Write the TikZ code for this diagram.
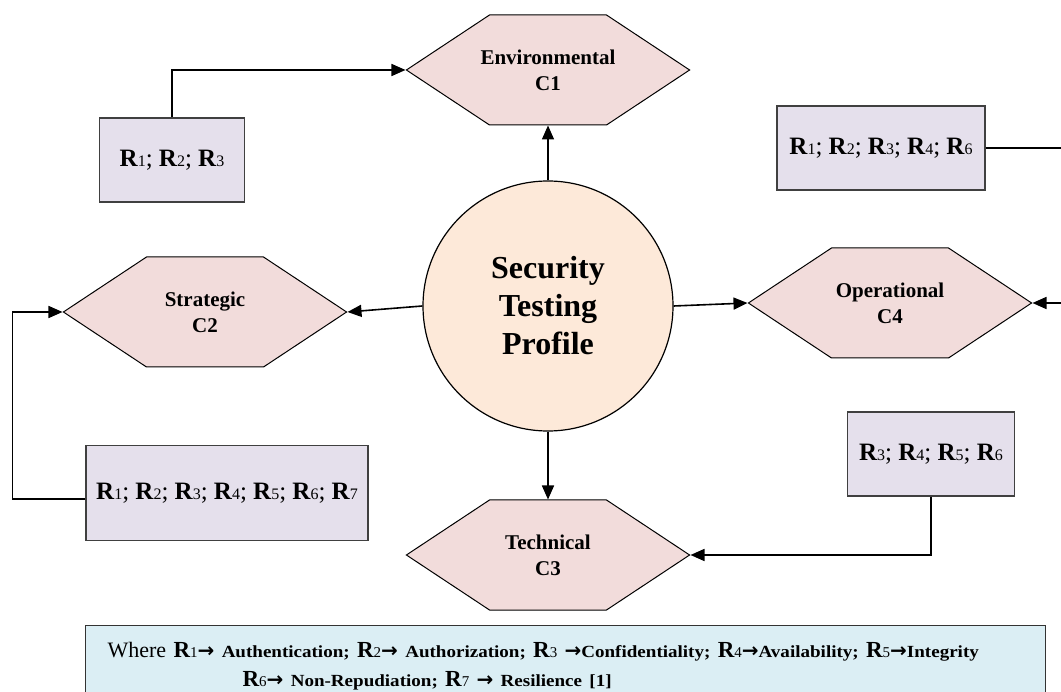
\documentclass[tikz,border=0pt]{standalone}
\usepackage{fontspec}
\setmainfont{Liberation Serif}
\newfontfamily\legendfont[FakeStretch=1.12]{Liberation Serif}
\newfontfamily\arrowfont{DejaVu Sans}
\usetikzlibrary{arrows.meta,shapes.symbols}
\definecolor{hexpink}{HTML}{F2DCDB}
\definecolor{boxlav}{HTML}{E5E0EC}
\definecolor{circpeach}{HTML}{FDE9D9}
\definecolor{legblue}{HTML}{DBEEF4}

% requirement label, e.g. \req{3} -> bold R with small digit
\newcommand{\req}[1]{{\bfseries R}{\fontsize{16}{16}\selectfont #1}}
% one line of a category label, kept to the flat part of the hexagon
\newcommand{\catline}[1]{\makebox[117pt]{#1}}
% legend pieces
\newcommand{\lreq}[1]{{\fontsize{23}{23}\selectfont\bfseries R}{\fontsize{15}{15}\selectfont #1}}
\newcommand{\lto}{{\arrowfont\bfseries\fontsize{20}{20}\selectfont →}}
\newcommand{\ldesc}[1]{{\legendfont\fontsize{17}{17}\selectfont\bfseries #1}}

\begin{document}
\begin{tikzpicture}[x=1pt,y=-1pt,
    category/.style={shape=signal,signal to=east and west,signal pointer angle=67,
      draw=black,line width=1pt,fill=hexpink,minimum height=110pt,
      inner sep=0pt,align=center,font=\fontsize{21}{26}\selectfont\bfseries},
    reqbox/.style={draw=black!75,line width=1.2pt,fill=boxlav,
      minimum height=84pt,inner sep=0pt,font=\fontsize{25}{27}\selectfont},
    conn/.style={line width=1.6pt,-{Triangle[length=14pt,width=12pt]}}]

  \useasboundingbox (0,0) rectangle (1061,692);

  % ---- Centre: the profile ---------------------------------
  \node[circle,draw=black,line width=1.2pt,fill=circpeach,minimum size=250pt,
    inner sep=0pt,align=center,font=\fontsize{32}{38}\selectfont\bfseries]
    (stp) at (548,306) {Security\\Testing\\Profile};

  % ---- Categories -------------------------------------------
  \node[category] (env) at (548,70)  {\catline{Environmental}\\\catline{C1}};
  \node[category] (str) at (205,312) {\catline{Strategic}\\\catline{C2}};
  \node[category] (tec) at (548,555) {\catline{Technical}\\\catline{C3}};
  \node[category] (ope) at (890,303) {\catline{Operational}\\\catline{C4}};

  % ---- Requirement boxes ------------------------------------
  \node[reqbox,minimum width=145pt] (rA) at (172,160)
    {\req{1}; \req{2}; \req{3}};
  \node[reqbox,minimum width=208pt] (rB) at (881,148)
    {\req{1}; \req{2}; \req{3}; \req{4}; \req{6}};
  \node[reqbox,minimum width=282pt,minimum height=95pt] (rC) at (227,493)
    {\req{1}; \req{2}; \req{3}; \req{4}; \req{5}; \req{6}; \req{7}};
  \node[reqbox,minimum width=167pt] (rD) at (931,454)
    {\req{3}; \req{4}; \req{5}; \req{6}};

  % ---- Connectors -------------------------------------------
  \draw[conn] (stp.north) -- (env.south);
  \draw[conn] (stp.west)  -- (str.east);
  \draw[conn] (stp.south) -- (tec.north);
  \draw[conn] (stp.east)  -- (ope.west);
  \draw[conn] (rA.north) |- (env.west);
  \draw[conn] ([yshift=-6pt]rC.west) -- ++(-73,0) |- (str.west);
  \draw[conn] (rD.south) |- (tec.east);
  \draw[conn] (rB.east) -- ++(90,0) |- (ope.east);

  % ---- Legend -----------------------------------------------
  \node[draw=black!80,line width=1.2pt,fill=legblue,anchor=north west,
    inner xsep=22pt,inner ysep=17pt,text width=916pt,align=left,
    font=\fontsize{22}{29}\selectfont] (key) at (85,625)
    {Where \lreq{1}\lto\ \ldesc{Authentication;} \lreq{2}\lto\ \ldesc{Authorization;}
     \lreq{3} \lto\ldesc{Confidentiality;} \lreq{4}\lto\ldesc{Availability;}
     \lreq{5}\lto\ldesc{Integrity}\\
     \hspace*{135pt}\lreq{6}\lto\ \ldesc{Non-Repudiation;} \lreq{7} \lto\ \ldesc{Resilience [1]}};

\end{tikzpicture}
\end{document}
